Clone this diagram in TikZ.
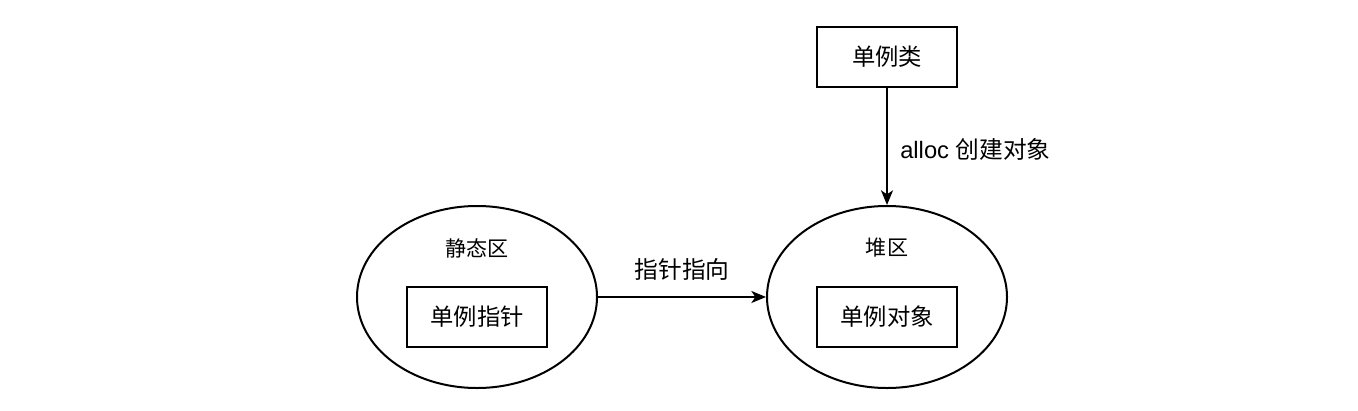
\documentclass[tikz,border=0pt]{standalone}
\usepackage{fontspec}
\setmainfont{Liberation Sans}
\newfontfamily\cjk{Noto Sans CJK SC}
\usetikzlibrary{shapes.geometric,arrows.meta}
\tikzset{
  box/.style={draw, line width=1.5pt, minimum width=105pt, minimum height=45pt, inner sep=0pt, font=\cjk\fontsize{17.5}{20}\selectfont},
  zone/.style={draw, ellipse, line width=1.5pt, minimum width=180pt, minimum height=136.5pt, inner sep=0pt},
  zlabel/.style={font=\cjk\fontsize{15.8}{18}\selectfont, inner sep=0pt},
  elabel/.style={font=\fontsize{17.8}{20}\selectfont, inner sep=0pt},
  conn/.style={line width=1.5pt, -{Stealth[length=11pt,width=9pt,inset=3pt]}}
}
\begin{document}
\begin{tikzpicture}[x=0.75pt,y=-0.75pt]
\useasboundingbox (0,0) rectangle (1358,410);
\node[zone] (ls) at (477,297) {};
\node[zone] (hp) at (887,297) {};
\node[zlabel] (lsl) at (477,248) {静态区};
\node[zlabel] (hpl) at (887,248) {堆区};
\node[box] (ptr) at (477,317) {单例指针};
\node[box] (obj) at (887,317) {单例对象};
\node[box] (cls) at (887,57) {单例类};
\draw[conn] (ls.east) -- node[elabel, above=12pt] {\cjk 指针指向} (hp.west);
\draw[conn] (cls.south) -- (hp.north);
\node[elabel, anchor=west] (al) at (900,149) {alloc {\cjk 创建对象}};
\end{tikzpicture}
\end{document}
